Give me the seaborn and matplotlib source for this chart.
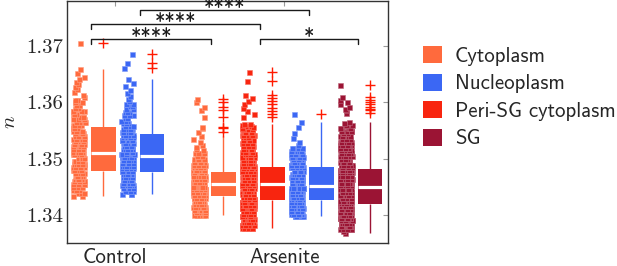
import numpy as np
import pandas as pd
import matplotlib
matplotlib.use("Agg")
import matplotlib.pyplot as plt
import matplotlib.transforms as mtransforms
import matplotlib.colors as mcolors
from matplotlib.patches import Patch
from matplotlib.ticker import FixedLocator, FormatStrFormatter
import seaborn as sns

# ---------------- data ----------------
groups = ["Control", "Arsenite"]
compartments = ["Cytoplasm", "Nucleoplasm", "Peri-SG cytoplasm", "SG"]
palette = {"Cytoplasm": "#FF6A3D", "Nucleoplasm": "#3B67F4",
           "Peri-SG cytoplasm": "#F8250F", "SG": "#9B1434"}

# refractive index levels and number of cells observed at each level
ctrl_cyto_n = [1.3435, 1.3440, 1.3445, 1.3450, 1.3455, 1.3460, 1.3465, 1.3470, 1.3475,
               1.3480, 1.3486, 1.3491, 1.3497, 1.3502, 1.3508,
               1.3513, 1.3518, 1.3522, 1.3527, 1.3531, 1.3536, 1.3541, 1.3545, 1.3550, 1.3555,
               1.3560, 1.3565, 1.3570, 1.3575, 1.3580, 1.3585, 1.3590, 1.3595, 1.3600, 1.3605,
               1.3610, 1.3614, 1.3618, 1.3623, 1.3627, 1.3632, 1.3637, 1.3641, 1.3646, 1.3652,
               1.3660, 1.3705]
ctrl_cyto_count = [2, 3, 4, 5, 6, 7, 7, 8, 8,
                   8, 8, 9, 9, 8, 8,
                   5, 5, 5, 5, 5, 5, 5, 5, 5, 5,
                   5, 5, 4, 4, 4, 4, 3, 3, 3, 3,
                   1, 1, 1, 1, 1, 1, 1, 1, 1, 1,
                   1, 1]

ctrl_nuc_n = [1.3438, 1.3443, 1.3448, 1.3453, 1.3458, 1.3463, 1.3468, 1.3473,
              1.3478, 1.3483, 1.3488, 1.3493, 1.3498, 1.3503,
              1.3508, 1.3513, 1.3518, 1.3523, 1.3528, 1.3533, 1.3538, 1.3543,
              1.3548, 1.3553, 1.3558, 1.3563, 1.3568, 1.3573, 1.3578, 1.3583, 1.3588, 1.3593, 1.3598,
              1.3602, 1.3606, 1.3611, 1.3616, 1.3622, 1.3630, 1.3635, 1.3641,
              1.3661, 1.3670, 1.3686]
ctrl_nuc_count = [3, 4, 5, 6, 7, 8, 8, 9,
                  8, 8, 9, 9, 8, 8,
                  6, 6, 6, 6, 6, 7, 7, 6,
                  6, 6, 4, 4, 4, 3, 3, 3, 2, 2, 2,
                  1, 1, 1, 1, 1, 1, 1, 1,
                  1, 1, 1]

ars_cyto_n = [1.3400, 1.3405, 1.3410, 1.3415, 1.3420, 1.3425, 1.3430,
              1.3436, 1.3441, 1.3446, 1.3451,
              1.3459, 1.3465, 1.3470, 1.3476,
              1.3480, 1.3485, 1.3490, 1.3495, 1.3500, 1.3505, 1.3510,
              1.3515, 1.3518, 1.3521, 1.3525, 1.3530, 1.3535, 1.3540,
              1.3548, 1.3554, 1.3557, 1.3575, 1.3586, 1.3592, 1.3601, 1.3607]
ars_cyto_count = [6, 9, 11, 12, 12, 12, 13,
                  19, 19, 19, 18,
                  19, 19, 19, 18,
                  13, 11, 10, 8, 7, 6, 5,
                  1, 1, 1, 1, 1, 1, 1,
                  1, 1, 1, 1, 1, 1, 1, 1]

ars_peri_n = [1.3378, 1.3383, 1.3388, 1.3393, 1.3398, 1.3403, 1.3408, 1.3413, 1.3418, 1.3423,
              1.3428, 1.3433, 1.3438, 1.3443, 1.3448, 1.3453,
              1.3458, 1.3463, 1.3468, 1.3473, 1.3478, 1.3484,
              1.3488, 1.3493, 1.3498, 1.3503, 1.3508, 1.3513, 1.3518, 1.3523, 1.3528, 1.3533,
              1.3538, 1.3543, 1.3548, 1.3553, 1.3558,
              1.3555, 1.3557, 1.3560, 1.3561, 1.3562,
              1.3574, 1.3579, 1.3585, 1.3591, 1.3597, 1.3602, 1.3608, 1.3613, 1.3638, 1.3654]
ars_peri_count = [6, 10, 12, 14, 16, 17, 18, 19, 19, 19,
                  25, 25, 25, 25, 25, 25,
                  25, 25, 25, 25, 25, 25,
                  14, 13, 12, 11, 10, 10, 9, 9, 8, 8,
                  7, 7, 6, 6, 5,
                  1, 1, 1, 1, 1,
                  1, 1, 1, 1, 1, 1, 1, 1, 1, 1]

ars_nuc_n = [1.3398, 1.3403, 1.3408, 1.3413, 1.3418, 1.3423,
             1.3428, 1.3433, 1.3438, 1.3443, 1.3448,
             1.3457, 1.3463, 1.3468, 1.3474, 1.3479, 1.3485,
             1.3489, 1.3494, 1.3499, 1.3504, 1.3509, 1.3514, 1.3519,
             1.3524, 1.3530, 1.3537, 1.3545, 1.3556, 1.3566, 1.3579]
ars_nuc_count = [8, 11, 14, 15, 16, 16,
                 16, 16, 16, 16, 16,
                 13, 13, 13, 13, 14, 14,
                 13, 13, 12, 11, 10, 8, 6,
                 1, 1, 1, 1, 1, 1, 1]

ars_sg_n = [1.3368, 1.3372,
            1.3376, 1.3381, 1.3386, 1.3391, 1.3396, 1.3401, 1.3406, 1.3411, 1.3416,
            1.3421, 1.3426, 1.3431, 1.3436, 1.3441, 1.3446,
            1.3453, 1.3458, 1.3464, 1.3470, 1.3476, 1.3481,
            1.3485, 1.3490, 1.3495, 1.3500, 1.3505, 1.3510, 1.3515, 1.3520,
            1.3525, 1.3530, 1.3535, 1.3540, 1.3545, 1.3550, 1.3555, 1.3560,
            1.3563, 1.3566,
            1.3581, 1.3586, 1.3589, 1.3592, 1.3597, 1.3601, 1.3605, 1.3610, 1.3631]
ars_sg_count = [1, 1,
                8, 12, 14, 16, 17, 18, 20, 21, 22,
                25, 25, 25, 25, 25, 25,
                25, 25, 25, 25, 25, 25,
                11, 11, 12, 11, 11, 10, 10, 9,
                9, 8, 8, 7, 7, 6, 5, 4,
                1, 1,
                1, 1, 1, 1, 1, 1, 1, 1, 1]

y_ticks = [1.34, 1.35, 1.36, 1.37]

comparisons = [("Control", "Nucleoplasm", "Arsenite", "Nucleoplasm", "****"),
               ("Control", "Cytoplasm", "Arsenite", "Peri-SG cytoplasm", "****"),
               ("Control", "Cytoplasm", "Arsenite", "Cytoplasm", "****"),
               ("Arsenite", "Peri-SG cytoplasm", "Arsenite", "SG", "*")]

series = [("Control", "Cytoplasm", ctrl_cyto_n, ctrl_cyto_count),
          ("Control", "Nucleoplasm", ctrl_nuc_n, ctrl_nuc_count),
          ("Arsenite", "Cytoplasm", ars_cyto_n, ars_cyto_count),
          ("Arsenite", "Peri-SG cytoplasm", ars_peri_n, ars_peri_count),
          ("Arsenite", "Nucleoplasm", ars_nuc_n, ars_nuc_count),
          ("Arsenite", "SG", ars_sg_n, ars_sg_count)]

frames = []
for g, c, lv, ct in series:
    frames.append(pd.DataFrame({"group": g, "compartment": c,
                                "n": np.repeat(np.array(lv), np.array(ct))}))
df = pd.concat(frames, ignore_index=True)

# ---------------- layout ----------------
step = 0.1444
offsets = {("Control", "Cytoplasm"): -1, ("Control", "Nucleoplasm"): 1,
           ("Arsenite", "Cytoplasm"): -3, ("Arsenite", "Peri-SG cytoplasm"): -1,
           ("Arsenite", "Nucleoplasm"): 1, ("Arsenite", "SG"): 3}
center = {k: groups.index(k[0]) + v * step for k, v in offsets.items()}
df["center"] = [center[(g, c)] for g, c in zip(df["group"], df["compartment"])]
df["strip_x"] = df["center"] - step / 2
df["box_x"] = df["center"] + step / 2

sns.set_style("white")
plt.rcParams["font.family"] = ["cmr10", "DejaVu Sans"]
plt.rcParams["mathtext.fontset"] = "cm"
plt.rcParams["axes.unicode_minus"] = False

fig = plt.figure(figsize=(6.17, 2.66), dpi=100)
ax = fig.add_axes([67 / 617, 1 - 243.3 / 266, (388.3 - 67) / 617, 242.3 / 266])

np.random.seed(7)


def lighten(col, f):
    r, g, b = mcolors.to_rgb(col)
    return (r + (1 - r) * f, g + (1 - g) * f, b + (1 - b) * f)


for g, c, _, _ in series:
    sub = df[(df["group"] == g) & (df["compartment"] == c)]
    col = palette[c]
    sns.stripplot(data=sub, x="strip_x", y="n", native_scale=True, orient="x",
                  jitter=0.036, marker="s", size=3.6, color=col,
                  edgecolor=lighten(col, 0.35), linewidth=0.4, ax=ax, zorder=2)
    sns.boxplot(data=sub, x="box_x", y="n", native_scale=True, orient="x",
                width=0.147, color=col, linecolor=col, saturation=1, linewidth=0,
                showcaps=False,
                medianprops=dict(color="white", linewidth=2.3, solid_capstyle="butt"),
                whiskerprops=dict(color=col, linewidth=1.0),
                flierprops=dict(marker="+", markeredgecolor="#FF1A00",
                                markerfacecolor="none", markersize=7.5,
                                markeredgewidth=1.0),
                ax=ax)

ax.set_xlim(-0.2855, 1.6135)
ax.set_ylim(1.33503, 1.37799)
ax.set_xlabel("")
ax.set_ylabel("$n$", fontsize=15)
ax.yaxis.set_label_coords(-0.15, 0.5)

ax.yaxis.set_major_locator(FixedLocator(y_ticks))
ax.yaxis.set_major_formatter(FormatStrFormatter("%.2f"))
ax.set_xticks([0, 1])
ax.set_xticklabels(groups, fontfamily="cmss10", fontsize=15)
ax.tick_params(direction="in", top=True, right=True, length=3.5, width=0.8,
               color="#9a9a9a", labelsize=15)
ax.tick_params(axis="x", pad=3.5)
ax.tick_params(axis="y", pad=3)
for sp in ax.spines.values():
    sp.set_color("#333333")
    sp.set_linewidth(1.0)

# significance brackets
trans = mtransforms.blended_transform_factory(ax.transData, ax.transAxes)
text_trans = mtransforms.offset_copy(trans, fig=fig, y=-3.2, units="points")
bracket_levels = [0.962, 0.904, 0.842, 0.842]
drop = 0.021
for (g1, c1, g2, c2, label), lev in zip(comparisons, bracket_levels):
    x1, x2 = center[(g1, c1)], center[(g2, c2)]
    ax.plot([x1, x1, x2, x2], [lev - drop, lev, lev, lev - drop], transform=trans,
            color="#1a1a1a", lw=1.0, clip_on=False, zorder=5)
    ax.text((x1 + x2) / 2, lev, label, transform=text_trans, ha="center",
            va="baseline", fontfamily="cmss10", fontsize=15, color="#1a1a1a", zorder=5)

handles = [Patch(facecolor=palette[c], edgecolor="none") for c in compartments]
fig.legend(handles, compartments, loc="upper left", bbox_to_anchor=(423 / 617, 0.826),
           frameon=False, prop={"family": "cmss10", "size": 15},
           handlelength=0.9, handleheight=0.88, handletextpad=0.62,
           labelspacing=0.37, borderpad=0, borderaxespad=0)

fig.savefig("out.png", dpi=100)
